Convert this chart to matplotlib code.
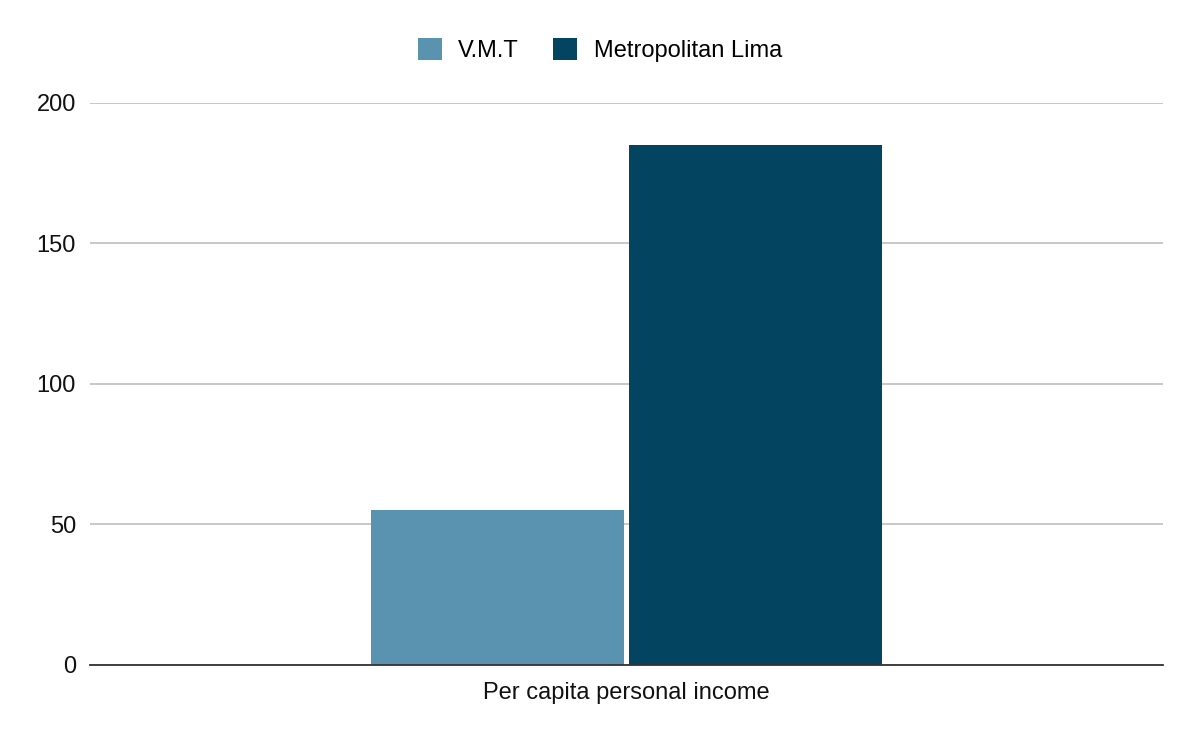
import matplotlib.pyplot as plt
from matplotlib.patches import Patch

categories = ["Per capita personal income"]
series_names = ["V.M.T", "Metropolitan Lima"]
vmt = [55]
lima = [185]
colors = ["#5a93b0", "#034561"]

plt.rcParams['font.family'] = ['Liberation Sans', 'DejaVu Sans']

fig = plt.figure(figsize=(12, 7.42), dpi=100)
ax = fig.add_axes([0.075, 0.1038, 0.894, 0.7574])

w = 0.236
ax.bar([-0.12], vmt, width=w, color=colors[0], zorder=3)
ax.bar([0.12], lima, width=w, color=colors[1], zorder=3)

ax.set_xlim(-0.5, 0.5)
ax.set_ylim(0, 200)
ax.set_yticks([0, 50, 100, 150, 200])
ax.set_xticks([0])
ax.set_xticklabels(categories)
ax.tick_params(axis='both', length=0, labelsize=17, colors='#111111')
ax.tick_params(axis='x', pad=12)
ax.tick_params(axis='y', pad=10)
ax.grid(axis='y', color='#c4c4c4', linewidth=1.3, zorder=0)
for s in ['top', 'right', 'left']:
    ax.spines[s].set_visible(False)
ax.spines['bottom'].set_color('#333333')
ax.spines['bottom'].set_linewidth(1.3)
ax.spines['bottom'].set_zorder(4)

handles = [Patch(facecolor=c) for c in colors]
fig.legend(handles, series_names, loc='center', bbox_to_anchor=(0.5, 0.932), ncol=2,
           frameon=False, fontsize=17, handlelength=1.0, handleheight=1.05,
           handletextpad=0.7, columnspacing=1.45)

fig.savefig("out.png", dpi=100, facecolor='white')
